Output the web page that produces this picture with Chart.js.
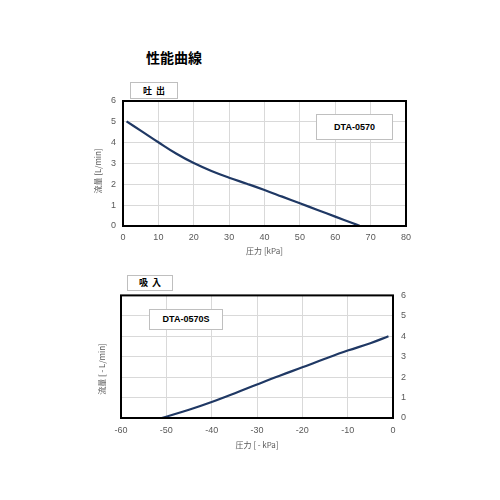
<!DOCTYPE html>
<html><head><meta charset="utf-8">
<script src="https://cdn.jsdelivr.net/npm/chart.js@4/dist/chart.umd.min.js"></script>
<style>
body{margin:0;background:#fff;width:500px;height:500px;position:relative;overflow:hidden;font-family:"Noto Sans CJK JP","Noto Sans",sans-serif;}
.c{position:absolute;}
.title{position:absolute;left:146px;top:47px;font-size:14px;font-weight:bold;color:#000;}
.tag{position:absolute;border:1px solid #bfbfbf;background:#fff;font-size:9px;font-weight:bold;text-align:center;box-sizing:border-box;color:#000;}
.leg{position:absolute;border:1px solid #bfbfbf;background:#fff;font-size:9px;font-weight:bold;text-align:center;box-sizing:border-box;color:#000;font-family:"Liberation Sans","Noto Sans",sans-serif;}
.yt{position:absolute;font-size:8px;color:#595959;white-space:nowrap;transform:translate(-50%,-50%) rotate(-90deg);font-family:"Noto Sans CJK JP","Noto Sans",sans-serif;}
</style></head><body>
<div class="title">性能曲線</div>
<div class="c" style="left:80px;top:75px;width:340px;height:181px;"><canvas id="c1"></canvas></div>
<div class="c" style="left:80px;top:282px;width:340px;height:168px;"><canvas id="c2"></canvas></div>
<div class="tag" style="left:130px;top:82px;width:48px;height:17px;line-height:15px;">吐&nbsp;&nbsp;出</div>
<div class="leg" style="left:316px;top:114px;width:77px;height:26px;line-height:24px;">DTA-0570</div>
<div class="tag" style="left:127px;top:275px;width:46px;height:16px;line-height:14px;">吸&nbsp;&nbsp;入</div>
<div class="leg" style="left:149px;top:309px;width:74px;height:21px;line-height:19px;">DTA-0570S</div>
<div class="yt" style="left:97px;top:171px;">流量 [L/min]</div>
<div class="yt" style="left:101px;top:369px;">流量 [ - L/min]</div>
<script>
const dischargePressure = [1, 5, 10, 15, 20, 25, 30, 35, 40, 45, 50, 55, 60, 65, 67];
const dischargeFlow     = [5.02, 4.58, 4.02, 3.48, 3.02, 2.64, 2.32, 2.03, 1.73, 1.41, 1.09, 0.77, 0.45, 0.13, 0];
const suctionPressure = [-51, -45, -40, -35, -30, -25, -20, -15, -10, -5, -1];
const suctionFlow     = [0, 0.4, 0.78, 1.2, 1.64, 2.07, 2.48, 2.9, 3.3, 3.66, 4.0];

const tickFont = {family:"'Liberation Sans','Noto Sans',sans-serif", size:9};
const titleFont = {family:"'Noto Sans CJK JP','Noto Sans',sans-serif", size:8};
const tickColor = '#595959';
const gridColor = '#d9d9d9';
const lineColor = '#1f3864';

const frame = {
  id:'frame',
  afterDatasetsDraw(chart){
    const a = chart.chartArea, ctx = chart.ctx;
    ctx.save();
    ctx.strokeStyle = '#000';
    ctx.lineWidth = 2;
    ctx.strokeRect(a.left, a.top, a.right - a.left, a.bottom - a.top);
    ctx.restore();
  }
};

function pts(xs, ys){ return xs.map((x,i)=>({x:x, y:ys[i]})); }

new Chart(document.getElementById('c1'), {
  type:'line',
  data:{datasets:[{data:pts(dischargePressure, dischargeFlow), borderColor:lineColor, borderWidth:2.2, pointRadius:0, tension:0.4, fill:false}]},
  options:{
    responsive:true, maintainAspectRatio:false, animation:false,
    layout:{padding:{left:0,right:14,top:26,bottom:0}},
    plugins:{legend:{display:false}, tooltip:{enabled:false}},
    scales:{
      x:{type:'linear', min:0, max:80, ticks:{stepSize:10, font:tickFont, color:tickColor, padding:6},
         grid:{color:gridColor, drawTicks:false}, border:{display:false},
         title:{display:true, text:'圧力 [kPa]', font:titleFont, color:tickColor, padding:{top:1,bottom:0}},
         afterFit(s){ s.height = 30; }},
      y:{min:0, max:6, ticks:{stepSize:1, font:tickFont, color:tickColor, padding:7},
         grid:{color:gridColor, drawTicks:false}, border:{display:false},
         afterFit(s){ s.width = 43; }}
    }
  },
  plugins:[frame]
});

new Chart(document.getElementById('c2'), {
  type:'line',
  data:{datasets:[{data:pts(suctionPressure, suctionFlow), borderColor:lineColor, borderWidth:2.2, pointRadius:0, tension:0.4, fill:false}]},
  options:{
    responsive:true, maintainAspectRatio:false, animation:false,
    layout:{padding:{left:41,right:0,top:5,bottom:0}},
    plugins:{legend:{display:false}, tooltip:{enabled:false}},
    scales:{
      x:{type:'linear', min:-60, max:0, ticks:{stepSize:10, font:tickFont, color:tickColor, padding:7},
         grid:{color:gridColor, drawTicks:false}, border:{display:false},
         title:{display:true, text:'圧力 [ - kPa]', font:titleFont, color:tickColor, padding:{top:3,bottom:0}},
         afterFit(s){ s.height = 32; }},
      y:{position:'right', min:0, max:6, ticks:{stepSize:1, font:tickFont, color:tickColor, padding:8},
         grid:{color:gridColor, drawTicks:false}, border:{display:false},
         afterFit(s){ s.width = 27; }}
    }
  },
  plugins:[frame]
});
</script>
</body></html>
